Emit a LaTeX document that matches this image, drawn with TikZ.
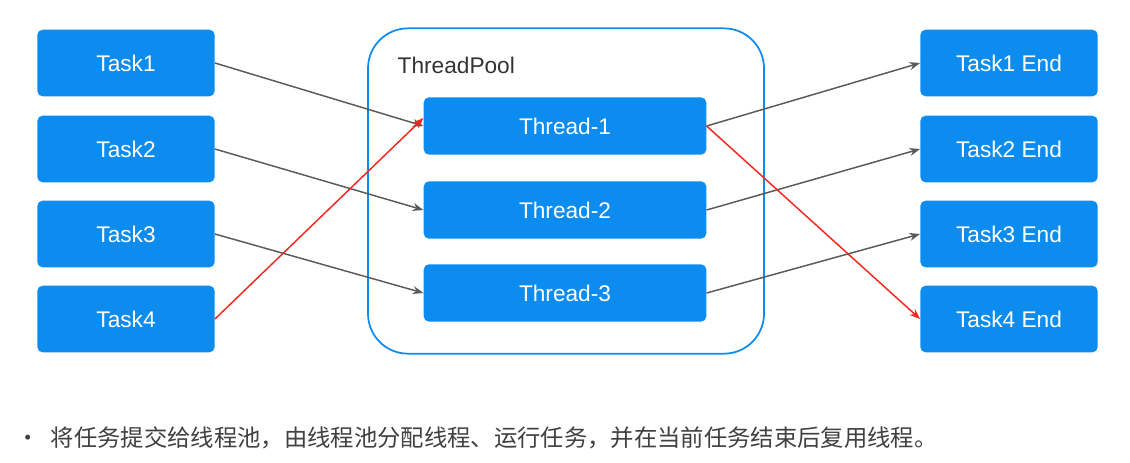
\documentclass[tikz,border=0pt]{standalone}
\usepackage{fontspec}
\setmainfont{Liberation Sans}
\newfontfamily\cjk{Noto Sans CJK SC}
\usetikzlibrary{arrows.meta}
\begin{document}
\begin{tikzpicture}[x=0.75pt,y=-0.75pt,
  box/.style={draw=none,fill=boxblue,rounded corners=4pt,text=white,font=\fontsize{17}{20}\selectfont,minimum width=133pt,minimum height=50pt,inner sep=0pt},
  thr/.style={box,minimum width=212pt,minimum height=43pt},
  conn/.style={draw=linegray,line width=1.1pt,-{Stealth[length=8pt,width=6pt]}},
  redc/.style={conn,draw=linered}]
\definecolor{boxblue}{RGB}{12,140,238}
\definecolor{linegray}{RGB}{90,90,90}
\definecolor{linered}{RGB}{240,40,30}
\useasboundingbox (0,0) rectangle (1130,462);
\fill[white] (0,0) rectangle (1130,462);
\node[draw=boxblue,line width=1.3pt,rounded corners=30pt,minimum width=297pt,minimum height=244pt] (pool) at (566,191) {};
\node[anchor=west,font=\fontsize{17}{20}\selectfont,text=black!80] (pl) at (393,65) {ThreadPool};
\foreach \i/\y in {1/63,2/149,3/234,4/319}{
  \node[box] (t\i) at (126,\y) {Task\i};
  \node[box] (e\i) at (1009,\y) {Task\i{} End};
}
\node[thr] (h1) at (565,126) {Thread-1};
\node[thr] (h2) at (565,210) {Thread-2};
\node[thr] (h3) at (565,293) {Thread-3};
\draw[conn] (t1.east) -- (h1.west);
\draw[conn] (t2.east) -- (h2.west);
\draw[conn] (t3.east) -- (h3.west);
\draw[redc] (t4.east) -- ([yshift=6pt]h1.west);
\draw[conn] (h1.east) -- (e1.west);
\draw[conn] (h2.east) -- (e2.west);
\draw[conn] (h3.east) -- (e3.west);
\draw[redc] (h1.east) -- (e4.west);
\node[anchor=west,text=black!75,font=\cjk\fontsize{17.5}{20}\selectfont] (cap) at (12,438) {•\hspace{8pt}将任务提交给线程池，由线程池分配线程、运行任务，并在当前任务结束后复用线程。};
\end{tikzpicture}
\end{document}
